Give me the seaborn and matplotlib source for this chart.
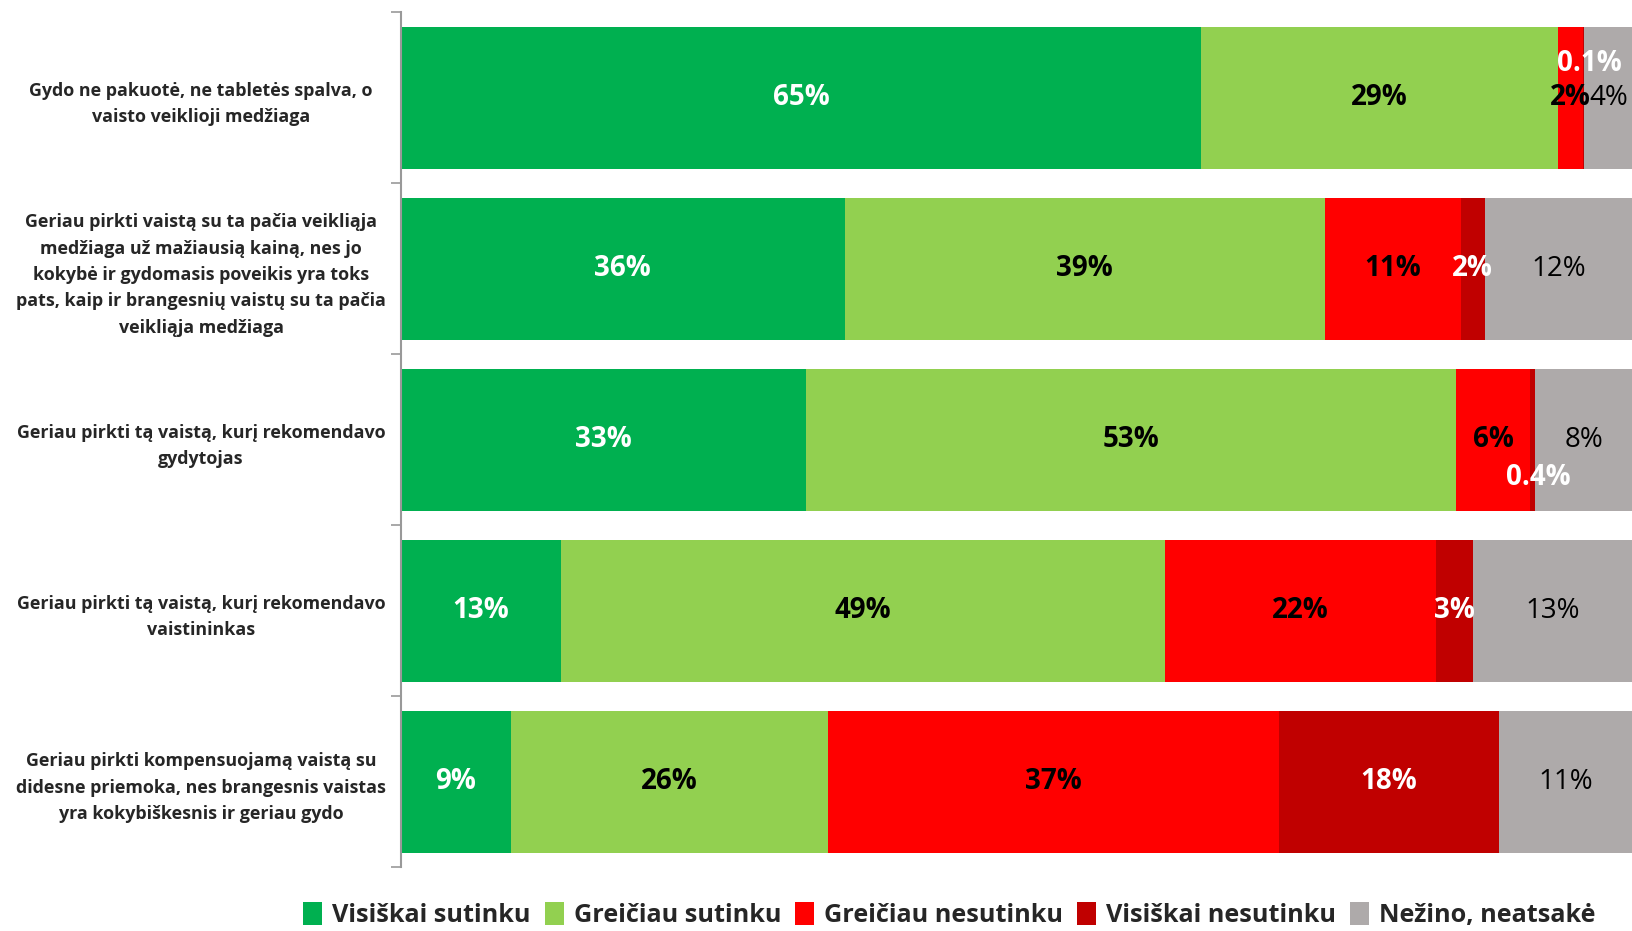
import matplotlib
matplotlib.use("Agg")
import matplotlib.pyplot as plt
import seaborn as sns
import pandas as pd
import numpy as np
from matplotlib.patches import Patch

categories = [
    "Gydo ne pakuotė, ne tabletės spalva, o\nvaisto veiklioji medžiaga",
    "Geriau pirkti vaistą su ta pačia veikliąja\nmedžiaga už mažiausią kainą, nes jo\nkokybė ir gydomasis poveikis yra toks\npats, kaip ir brangesnių vaistų su ta pačia\nveikliąja medžiaga",
    "Geriau pirkti tą vaistą, kurį rekomendavo\ngydytojas",
    "Geriau pirkti tą vaistą, kurį rekomendavo\nvaistininkas",
    "Geriau pirkti kompensuojamą vaistą su\ndidesne priemoka, nes brangesnis vaistas\nyra kokybiškesnis ir geriau gydo",
]
series_names = ["Visiškai sutinku", "Greičiau sutinku", "Greičiau nesutinku",
                "Visiškai nesutinku", "Nežino, neatsakė"]
visiskai_sutinku = [65, 36, 33, 13, 9]
greiciau_sutinku = [29, 39, 53, 49, 26]
greiciau_nesutinku = [2, 11, 6, 22, 37]
visiskai_nesutinku = [0.1, 2, 0.4, 3, 18]
nezino = [4, 12, 8, 13, 11]

colors = ["#00B050", "#92D050", "#FF0000", "#C00000", "#AEAAAA"]
label_colors = ["white", "black", "black", "white", "black"]
label_weights = ["bold", "bold", "bold", "bold", "normal"]

sns.set_theme(style="white")
plt.rcParams["font.family"] = ["Open Sans", "DejaVu Sans"]

vals = np.array([visiskai_sutinku, greiciau_sutinku, greiciau_nesutinku,
                 visiskai_nesutinku, nezino], dtype=float)
totals = vals.sum(axis=0)
shares = vals / totals * 100.0
cum = np.cumsum(shares, axis=0)

fig = plt.figure(figsize=(16.33, 9.31), dpi=100)
ax = fig.add_axes([0.2456, 0.0687, 0.7544, 0.918])

for i in range(len(series_names) - 1, -1, -1):
    df = pd.DataFrame({"cat": categories, "val": cum[i]})
    sns.barplot(data=df, y="cat", x="val", orient="y", color=colors[i],
                saturation=1, width=0.83, ax=ax, linewidth=0)

ax.set_xlim(0, 100)
ax.set_ylim(4.5, -0.5)
ax.set_xlabel("")
ax.set_ylabel("")
ax.set_xticks([])
ax.set_yticks(range(len(categories)))
ax.set_yticklabels(categories, fontsize=12.9, fontweight="bold", ha="center",
                   linespacing=1.6)
ax.tick_params(axis="y", which="major", length=0, pad=144)
ax.set_yticks(np.arange(-0.5, len(categories), 1.0), minor=True)
ax.tick_params(axis="y", which="minor", length=7, width=1.2, color="#999999",
               direction="out", left=True)
for s in ["top", "right", "bottom"]:
    ax.spines[s].set_visible(False)
ax.spines["left"].set_color("#999999")
ax.spines["left"].set_linewidth(1.5)

# value labels
for j in range(len(categories)):
    for i in range(len(series_names)):
        v = vals[i, j]
        start = cum[i, j] - shares[i, j]
        xc = start + shares[i, j] / 2
        yc = j
        txt = f"{v:.1f}%" if v < 1 else f"{v:.0f}%"
        if v < 1:
            yc = j + (-0.2 if j == 0 else 0.22)
            xc = xc + 0.5
            col, wt = "white", "bold"
        else:
            col, wt = label_colors[i], label_weights[i]
        ax.text(xc, yc, txt, ha="center", va="center", fontsize=20,
                color=col, fontweight=wt)

handles = [Patch(facecolor=c, edgecolor="none") for c in colors]
fig.legend(handles, series_names, loc="center", bbox_to_anchor=(0.5815, 0.017),
           ncol=5, frameon=False, handlelength=0.75, handleheight=1.0,
           handletextpad=0.4, columnspacing=0.55,
           prop={"size": 18.2, "weight": "bold"})

fig.savefig("out.png", dpi=100)
